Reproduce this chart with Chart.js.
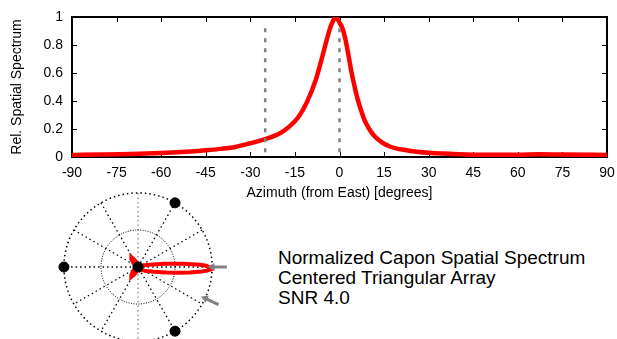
<!DOCTYPE html>
<html lang="en">
<head>
  <meta charset="UTF-8" />
  <title>Capon Spatial Spectrum</title>
  <script src="https://cdn.jsdelivr.net/npm/chart.js"></script>
  <style>
    html, body { margin: 0; padding: 0; background: #fff; width: 617px; height: 339px; overflow: hidden; }
    #spectrum { position: absolute; left: 0; top: 0; }
    #polar { position: absolute; left: 38px; top: 167px; }
    #caption { position: absolute; left: 278px; top: 248px; font: 19px "Liberation Sans", Arial, sans-serif; line-height: 20px; color: #000; }
  </style>
</head>
<body>
  <canvas id="spectrum" width="617" height="202"></canvas>
  <canvas id="polar" width="200" height="200"></canvas>
  <div id="caption">Normalized Capon Spatial Spectrum<br>Centered Triangular Array<br>SNR 4.0</div>

  <script>
    // spectrum, azimuth in degrees from East
    const azimuth  = [-90, -80, -70, -60, -50, -45, -40, -35, -30, -25, -20, -17, -14, -11, -8, -6, -4, -3, -2, -1.5, -1, 0, 1, 2, 3, 4, 5, 6, 7, 8.5, 10, 11.5, 13, 15, 17, 19, 22, 26, 30, 40, 50, 60, 67, 75, 90];
    const spectrum = [0.015, 0.018, 0.022, 0.029, 0.04, 0.048, 0.058, 0.072, 0.098, 0.128, 0.17, 0.215, 0.28, 0.39, 0.55, 0.70, 0.86, 0.93, 0.98, 1.0, 0.995, 0.96, 0.92, 0.84, 0.73, 0.61, 0.51, 0.42, 0.35, 0.26, 0.20, 0.155, 0.125, 0.095, 0.075, 0.062, 0.05, 0.038, 0.03, 0.02, 0.016, 0.016, 0.019, 0.017, 0.015];

    // back half of the pattern (only visible in the polar view)
    const backAzimuth  = [90, 100, 110, 118, 124, 130, 140, 150, 165, 180, 195, 210, 220, 230, 236, 242, 250, 260, 270];
    const backSpectrum = [0.015, 0.03, 0.07, 0.12, 0.16, 0.14, 0.08, 0.05, 0.035, 0.03, 0.035, 0.05, 0.08, 0.14, 0.16, 0.12, 0.07, 0.03, 0.015];

    const markerAz = [-25, 0];      // dashed lines / arrows
    const markerTop = 0.92;
    const elementAz = [180, 60, -60];  // array elements on the unit circle, plus one at centre
    const ringRadii = [1, 0.5];
    const spokeAngles = [0, 30, 60, 90, 120, 150];

    const font = '"Liberation Sans", Arial, sans-serif';
    const rad = d => d * Math.PI / 180;
    const polarPt = (az, r) => ({ x: r * Math.cos(rad(az)), y: r * Math.sin(rad(az)) });

    // box with inward ticks on all four sides
    const frame = {
      id: 'frame',
      beforeDatasetsDraw(chart) {
        const { ctx, chartArea: a, scales: { x, y } } = chart;
        ctx.save();
        ctx.strokeStyle = '#000';
        ctx.lineWidth = 1;
        ctx.beginPath();
        x.ticks.forEach(t => {
          const px = Math.round(x.getPixelForValue(t.value)) + 0.5;
          ctx.moveTo(px, a.bottom); ctx.lineTo(px, a.bottom - 5);
          ctx.moveTo(px, a.top); ctx.lineTo(px, a.top + 5);
        });
        y.ticks.forEach(t => {
          const py = Math.round(y.getPixelForValue(t.value)) + 0.5;
          ctx.moveTo(a.left, py); ctx.lineTo(a.left + 5, py);
          ctx.moveTo(a.right, py); ctx.lineTo(a.right - 5, py);
        });
        ctx.stroke();
        ctx.lineWidth = 2;
        ctx.strokeRect(a.left, a.top, a.right - a.left, a.bottom - a.top);
        ctx.restore();
      }
    };

    const markerSets = markerAz.map(az => ({
      data: [{ x: az, y: markerTop }, { x: az, y: 0 }],
      borderColor: '#808080',
      borderWidth: 2.5,
      borderDash: [4, 6],
      pointRadius: 0,
      order: 0
    }));

    new Chart(document.getElementById('spectrum'), {
      type: 'line',
      data: {
        datasets: [
          ...markerSets,
          {
            data: azimuth.map((a, i) => ({ x: a, y: spectrum[i] })),
            borderColor: '#ff0000',
            borderWidth: 4.5,
            pointRadius: 0,
            cubicInterpolationMode: 'monotone',
            order: 1
          }
        ]
      },
      options: {
        responsive: false,
        animation: false,
        layout: { padding: { top: 17, right: 10, left: 0, bottom: 0 }, autoPadding: false },
        plugins: { legend: { display: false }, tooltip: { enabled: false } },
        scales: {
          x: {
            type: 'linear', min: -90, max: 90,
            ticks: { stepSize: 15, color: '#000', font: { family: font, size: 14 }, padding: 8, maxRotation: 0 },
            grid: { display: false, drawTicks: false },
            border: { display: false },
            title: { display: true, text: 'Azimuth (from East) [degrees]', color: '#000', font: { family: font, size: 14 }, padding: { top: 4, bottom: 0 } },
            afterFit: s => { s.height = 45; s.paddingLeft = 0; s.paddingRight = 0; }
          },
          y: {
            min: 0, max: 1,
            ticks: { stepSize: 0.2, color: '#000', font: { family: font, size: 14 }, padding: 9, callback: v => String(+v.toFixed(1)) },
            grid: { display: false, drawTicks: false },
            border: { display: false },
            title: { display: true, text: 'Rel. Spatial Spectrum', color: '#000', font: { family: font, size: 14 }, padding: { top: 9, bottom: 0 } },
            afterFit: s => { s.width = 72; s.paddingTop = 0; s.paddingBottom = 0; }
          }
        }
      },
      plugins: [frame]
    });

    // polar view
    const ring = r => {
      const pts = [];
      for (let a = 0; a <= 360; a += 2) pts.push(polarPt(a, r));
      return pts;
    };

    const ringSets = ringRadii.map((r, i) => ({
      data: ring(r),
      borderColor: '#000',
      borderWidth: i === 0 ? 1.5 : 1,
      borderDash: i === 0 ? [1.5, 3] : [1, 1.5],
      pointRadius: 0,
      showLine: true,
      order: 5
    }));

    const spokeSets = spokeAngles.map(a => ({
      data: [polarPt(a, 1), polarPt(a + 180, 1)],
      borderColor: a === 90 ? '#888' : '#000',
      borderWidth: 1.3,
      borderDash: [1.5, 3],
      pointRadius: 0,
      showLine: true,
      order: 5
    }));

    const loopAz = azimuth.concat(backAzimuth.slice(1));
    const loopVal = spectrum.concat(backSpectrum.slice(1));

    const lobeSet = {
      data: loopAz.map((a, i) => polarPt(a, loopVal[i])),
      borderColor: '#ff0000',
      borderWidth: 4,
      pointRadius: 0,
      showLine: true,
      order: 3
    };

    const elementSet = {
      data: [{ x: 0, y: 0 }, ...elementAz.map(a => polarPt(a, 1))],
      backgroundColor: '#000',
      borderColor: '#000',
      pointRadius: 5,
      showLine: false,
      order: 2
    };

    const arrowSets = markerAz.map(az => ({
      data: [polarPt(az, 1.2), polarPt(az, 1.0)],
      borderColor: '#808080',
      backgroundColor: '#808080',
      borderWidth: 3,
      pointRadius: [0, 4.5],
      pointBorderWidth: 0,
      pointStyle: 'triangle',
      rotation: [0, -90 - az],
      showLine: true,
      order: 1
    }));

    new Chart(document.getElementById('polar'), {
      type: 'scatter',
      data: { datasets: [...ringSets, ...spokeSets, lobeSet, elementSet, ...arrowSets] },
      options: {
        responsive: false,
        animation: false,
        layout: { padding: 0, autoPadding: false },
        plugins: { legend: { display: false }, tooltip: { enabled: false } },
        scales: {
          x: { display: false, min: -1.35, max: 1.35 },
          y: { display: false, min: -1.35, max: 1.35 }
        }
      }
    });
  </script>
</body>
</html>
